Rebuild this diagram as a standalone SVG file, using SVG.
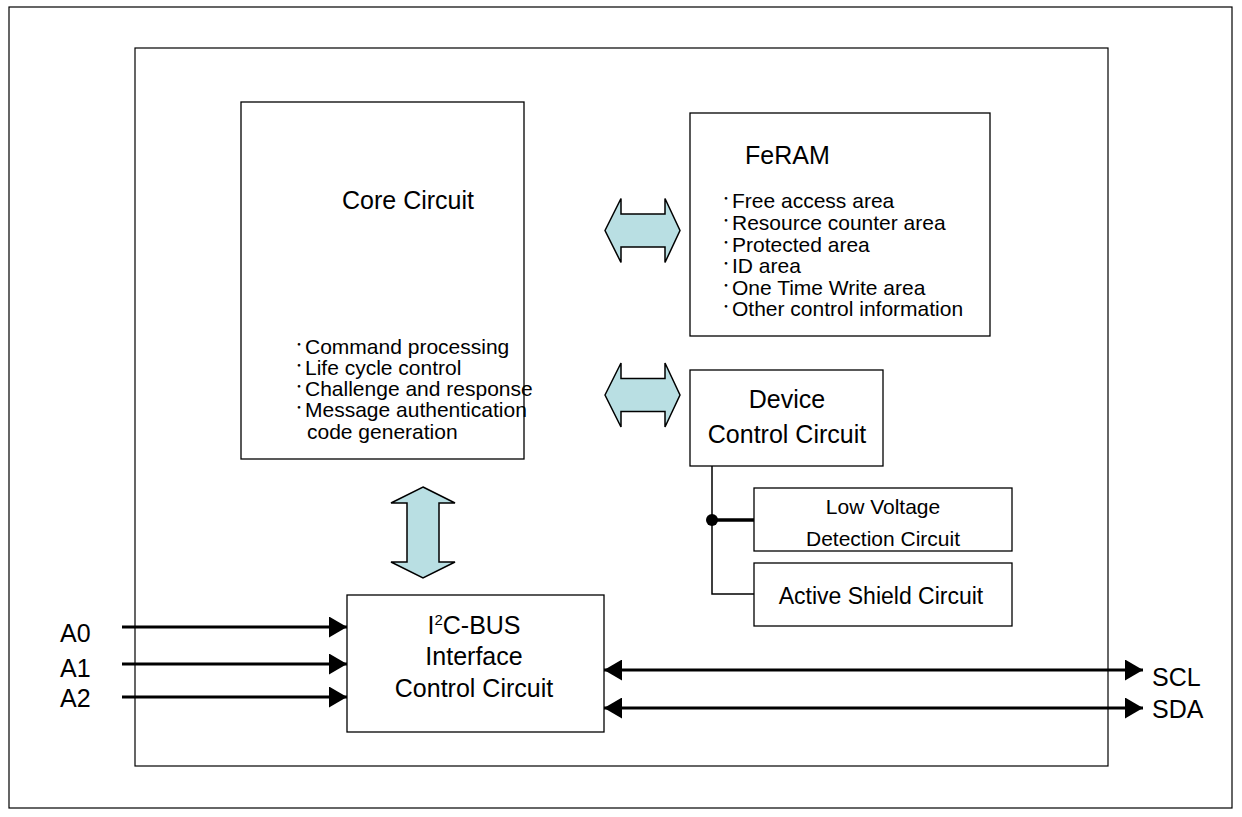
<svg xmlns="http://www.w3.org/2000/svg" width="1242" height="817" viewBox="0 0 1242 817">
<style>
text{font-family:"Liberation Sans",Arial,sans-serif;fill:#000}
.t{font-size:25px}
.s{font-size:21px}
.b{font-family:"Noto Sans CJK JP",sans-serif;font-size:16px}
.box{fill:#fff;stroke:#000;stroke-width:1.3}
.frame{fill:none;stroke:#000;stroke-width:1.2}
.fat{fill:#B9DFE3;stroke:#000;stroke-width:1.5;stroke-linejoin:miter}
.wire{stroke:#000;stroke-width:3;fill:none}
.thin{stroke:#000;stroke-width:1.5;fill:none}
</style>
<defs>
<marker id="ah" markerWidth="6" markerHeight="7" refX="6" refY="3.5" orient="auto" markerUnits="strokeWidth">
<path d="M0,0 L6,3.5 L0,7 Z" fill="#000"/>
</marker>
<marker id="ahs" markerWidth="6" markerHeight="7" refX="0" refY="3.5" orient="auto" markerUnits="strokeWidth">
<path d="M6,0 L0,3.5 L6,7 Z" fill="#000"/>
</marker>
</defs>
<rect width="1242" height="817" fill="#fff"/>
<rect class="frame" x="9" y="7" width="1223" height="801"/>
<rect class="frame" x="135" y="48" width="973" height="718"/>

<g id="core">
<rect class="box" x="241" y="102" width="283" height="357"/>
<text class="t" x="408" y="209" text-anchor="middle">Core Circuit</text>
<text class="s" x="295" y="354"><tspan class="b" dy="-4">･</tspan><tspan x="305" dy="4">Command processing</tspan></text>
<text class="s" x="295" y="375"><tspan class="b" dy="-4">･</tspan><tspan x="305" dy="4">Life cycle control</tspan></text>
<text class="s" x="295" y="396"><tspan class="b" dy="-4">･</tspan><tspan x="305" dy="4">Challenge and response</tspan></text>
<text class="s" x="295" y="417"><tspan class="b" dy="-4">･</tspan><tspan x="305" dy="4">Message authentication</tspan></text>
<text class="s" x="307" y="439">code generation</text>
</g>

<g id="feram">
<rect class="box" x="690" y="113" width="300" height="223"/>
<text class="t" x="745" y="164">FeRAM</text>
<text class="s" x="722" y="208"><tspan class="b" dy="-4">･</tspan><tspan x="732" dy="4">Free access area</tspan></text>
<text class="s" x="722" y="230"><tspan class="b" dy="-4">･</tspan><tspan x="732" dy="4">Resource counter area</tspan></text>
<text class="s" x="722" y="252"><tspan class="b" dy="-4">･</tspan><tspan x="732" dy="4">Protected area</tspan></text>
<text class="s" x="722" y="273"><tspan class="b" dy="-4">･</tspan><tspan x="732" dy="4">ID area</tspan></text>
<text class="s" x="722" y="295"><tspan class="b" dy="-4">･</tspan><tspan x="732" dy="4">One Time Write area</tspan></text>
<text class="s" x="722" y="316"><tspan class="b" dy="-4">･</tspan><tspan x="732" dy="4">Other control information</tspan></text>
</g>

<g id="device">
<rect class="box" x="690" y="370" width="193" height="96"/>
<text class="t" x="787" y="408" text-anchor="middle">Device</text>
<text class="t" x="787" y="443" text-anchor="middle">Control Circuit</text>
</g>

<g id="lowvoltage">
<rect class="box" x="754" y="488" width="258" height="63"/>
<text class="s" x="883" y="514" text-anchor="middle">Low Voltage</text>
<text class="s" x="883" y="546" text-anchor="middle">Detection Circuit</text>
</g>

<g id="shield">
<rect class="box" x="754" y="563" width="258" height="63"/>
<text class="s" x="881" y="604" text-anchor="middle" style="font-size:23px">Active Shield Circuit</text>
</g>

<g id="i2c">
<rect class="box" x="347" y="595" width="257" height="137"/>
<text class="t" x="474" y="634" text-anchor="middle">I<tspan font-size="15" dy="-9">2</tspan><tspan dy="9">C-BUS</tspan></text>
<text class="t" x="474" y="665" text-anchor="middle">Interface</text>
<text class="t" x="474" y="697" text-anchor="middle">Control Circuit</text>
</g>

<g id="labels">
<text class="t" x="60" y="642">A0</text>
<text class="t" x="60" y="677">A1</text>
<text class="t" x="60" y="707">A2</text>
<text class="t" x="1152" y="686">SCL</text>
<text class="t" x="1152" y="718">SDA</text>
</g>

<g id="connectors">
<path class="fat" d="M605,230.5 L621,198.5 L621,214 L665,214 L665,198.5 L680,230.5 L665,262.5 L665,247 L621,247 L621,262.5 Z"/>
<path class="fat" d="M605,395 L621,363 L621,378.5 L665,378.5 L665,363 L680,395 L665,427 L665,411.5 L621,411.5 L621,427 Z"/>
<path class="fat" d="M423,487 L455,503 L439,503 L439,562 L455,562 L423,578 L391,562 L407,562 L407,503 L391,503 Z"/>
<line class="wire" x1="122" y1="627" x2="347" y2="627" marker-end="url(#ah)"/>
<line class="wire" x1="122" y1="664" x2="347" y2="664" marker-end="url(#ah)"/>
<line class="wire" x1="122" y1="697" x2="347" y2="697" marker-end="url(#ah)"/>
<line class="wire" x1="604" y1="670" x2="1143" y2="670" marker-start="url(#ahs)" marker-end="url(#ah)"/>
<line class="wire" x1="604" y1="708" x2="1143" y2="708" marker-start="url(#ahs)" marker-end="url(#ah)"/>
<polyline class="thin" points="712,466 712,594 754,594"/>
<line x1="712" y1="520" x2="754" y2="520" stroke="#000" stroke-width="3.5"/>
<circle cx="712" cy="520" r="6" fill="#000"/>
</g>
</svg>
